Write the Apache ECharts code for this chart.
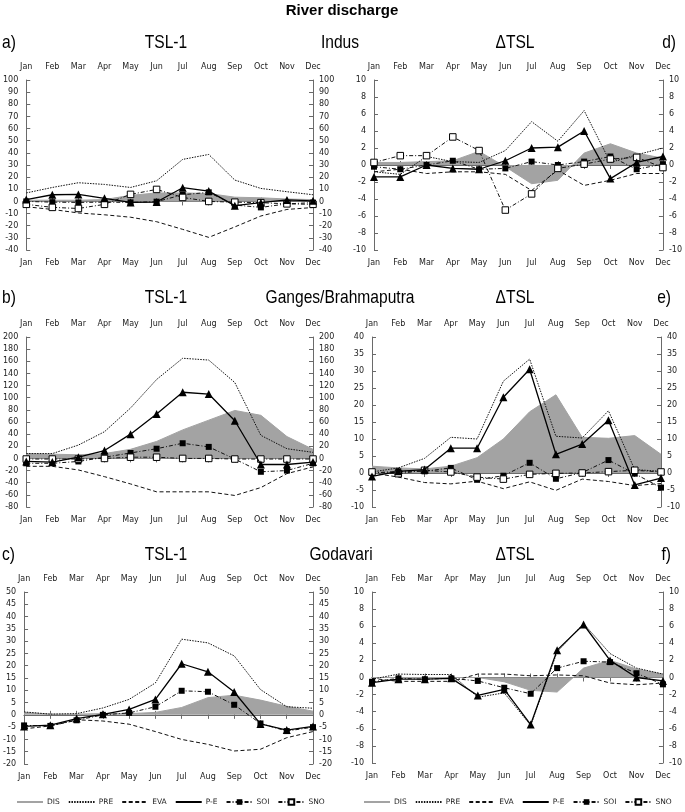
<!DOCTYPE html>
<html>
<head>
<meta charset="utf-8">
<script src="https://cdn.jsdelivr.net/npm/echarts@6/dist/echarts.min.js"></script>
<style>
html,body{margin:0;padding:0;background:#fff;}
#chart{width:685px;height:812px;}
</style>
</head>
<body>
<div id="chart"></div>
<script>
const months = ['Jan','Feb','Mar','Apr','May','Jun','Jul','Aug','Sep','Oct','Nov','Dec'];
const seriesNames = ['DIS','PRE','EVA','P-E','SOI','SNO'];

// a) Indus TSL-1
const indusTslDIS = [1,1,1,1.5,5,7,7,6.5,3.5,3,2,1.5];
const indusTslPRE = [7,11.5,15.4,14,11.5,17,34.6,38.7,17.6,10.7,8,5.5];
const indusTslEVA = [-4.4,-6.6,-9.5,-11,-13,-16.7,-23,-29.6,-21,-12,-6.6,-5];
const indusTslPE  = [1.5,5.5,5.8,2.6,-0.8,-0.5,11.3,8.5,-3.5,-1,1.2,0.5];
const indusTslSOI = [0,-0.6,-0.8,-0.6,-0.8,-0.2,5.5,7.5,-3,-4.9,-2,-1];
const indusTslSNO = [-2.4,-4.9,-5.8,-2.4,5.8,9.9,3.3,0,-0.6,-1,-2,-2.4];

// d) Indus dTSL
const indusDtDIS = [0.3,0.3,0.4,0.5,1.6,-0.2,-2.2,-1.8,1.4,2.5,1.4,0.8];
const indusDtPRE = [-0.8,-1.1,1.0,0.4,0.3,1.7,5.1,2.8,6.4,0.3,1.2,2.0];
const indusDtEVA = [-0.8,-0.5,-1.0,-0.8,-0.8,-1.1,-3.0,-0.6,-2.4,-1.8,-1.0,-1.0];
const indusDtPE  = [-1.4,-1.4,0,-0.4,-0.5,0.5,2.0,2.1,4.0,-1.6,0.3,1.0];
const indusDtSOI = [-0.2,-0.5,0,0.5,-0.5,-0.4,0.4,0,0.4,1.0,-0.5,0.1];
const indusDtSNO = [0.3,1.1,1.1,3.3,1.7,-5.3,-3.4,-0.4,0.1,0.7,0.9,-0.3];

// b) Ganges/Brahmaputra TSL-1
const gangesTslDIS = [8,7,6,8,15,28,47,63,79,71,36,15];
const gangesTslPRE = [8,8,22,44,83,130,165,162,125,38,16,10];
const gangesTslEVA = [-13,-13,-19,-30,-42,-55,-55,-55,-61,-48,-25,-14];
const gangesTslPE  = [-5,-6,2,13,40,73,109,106,62,-10,-10,-6];
const gangesTslSOI = [-8,-8,-5,2,9,16,25,19,-1,-22,-20,-8];
const gangesTslSNO = [-1,-1,-1,0,2,2,0,0,-1,-1,-1,-1];

// e) Ganges/Brahmaputra dTSL
const gangesDtDIS = [2,1.5,1.2,2,4.5,10,18,23,10.5,10.2,11,5.5];
const gangesDtPRE = [0.3,1.5,4.3,10.5,10,27,33.5,10.8,10.3,18.3,1,0.5];
const gangesDtEVA = [0,-1.2,-2.8,-3.2,-2.4,-4.6,-2.6,-5.1,-1.8,-2.5,-3.7,-3.1];
const gangesDtPE  = [-1,0.5,1,7.3,7.3,22.3,30.5,5.5,8.5,15.5,-3.5,-1.5];
const gangesDtSOI = [0,0.5,0.5,1.5,-2,-0.8,3,-1.7,0.1,3.8,-0.2,-4.3];
const gangesDtSNO = [0.3,-0.2,0.8,0.3,-1.2,-1.8,-0.4,-0.1,0,0.4,0.8,0.3];

// c) Godavari TSL-1
const godavariTslDIS = [1,0.3,0.3,0.5,0.5,1,3,7,8,6,3.5,1.5];
const godavariTslPRE = [1.2,0.3,0.5,2.8,6.3,13,30.8,29.3,24,10.3,3.3,2.7];
const godavariTslEVA = [-5.7,-4.5,-2,-2.5,-3.8,-6.8,-10,-12,-14.7,-14,-9.3,-6.8];
const godavariTslPE  = [-4.7,-4.2,-1.5,0.2,2.2,6.3,20.8,17.5,9.3,-3.7,-6.2,-4.7];
const godavariTslSOI = [-4.3,-4.5,-2.2,0,0.8,3.3,9.8,9.4,4.1,-3.5,-6.6,-5];

// f) Godavari dTSL
const godavariDtDIS = [0,0,0,0,0,-0.5,-1.5,-1.7,1.1,2.0,1.0,0.4];
const godavariDtPRE = [-0.2,0.4,0.35,0.35,-2.3,-1.8,-5.6,3.0,6.3,2.8,1.1,0.4];
const godavariDtEVA = [-0.1,-0.45,-0.45,-0.45,0.4,0.4,0.2,0.3,0.2,-0.65,-0.85,-0.65];
const godavariDtPE  = [-0.6,-0.2,-0.2,-0.1,-2.1,-1.4,-5.5,3.2,6.2,2.0,0,-0.4];
const godavariDtSOI = [-0.5,-0.1,-0.2,-0.1,-0.4,-1.2,-1.9,1.1,1.9,1.8,0.5,-0.8];

// y-axis ranges per panel [min, max, interval]
const rangeA = [-40,100,10];
const rangeD = [-10,10,2];
const rangeB = [-80,200,20];
const rangeE = [-10,40,5];
const rangeC = [-20,50,5];
const rangeF = [-10,10,2];

const panels = [
  {grid:{left:24, top:80, width:289, height:170}, range:rangeA,
   data:{DIS:indusTslDIS, PRE:indusTslPRE, EVA:indusTslEVA, 'P-E':indusTslPE, SOI:indusTslSOI, SNO:indusTslSNO}},
  {grid:{left:374, top:80, width:291, height:170}, range:rangeD,
   data:{DIS:indusDtDIS, PRE:indusDtPRE, EVA:indusDtEVA, 'P-E':indusDtPE, SOI:indusDtSOI, SNO:indusDtSNO}},
  {grid:{left:24, top:337, width:289, height:170}, range:rangeB,
   data:{DIS:gangesTslDIS, PRE:gangesTslPRE, EVA:gangesTslEVA, 'P-E':gangesTslPE, SOI:gangesTslSOI, SNO:gangesTslSNO}},
  {grid:{left:372, top:337, width:289, height:170}, range:rangeE,
   data:{DIS:gangesDtDIS, PRE:gangesDtPRE, EVA:gangesDtEVA, 'P-E':gangesDtPE, SOI:gangesDtSOI, SNO:gangesDtSNO}},
  {grid:{left:24, top:592, width:289, height:172}, range:rangeC,
   data:{DIS:godavariTslDIS, PRE:godavariTslPRE, EVA:godavariTslEVA, 'P-E':godavariTslPE, SOI:godavariTslSOI}},
  {grid:{left:372, top:592, width:291, height:171}, range:rangeF,
   data:{DIS:godavariDtDIS, PRE:godavariDtPRE, EVA:godavariDtEVA, 'P-E':godavariDtPE, SOI:godavariDtSOI}}
];

const FONT = '"DejaVu Sans", "Liberation Sans", sans-serif';
const AXC = '#6a6a6a';

const styles = {
  'DIS': {symbol:'none', lineStyle:{color:'#a3a3a3', width:1}, itemStyle:{color:'#b5b5b5'},
          areaStyle:{color:'#a3a3a3', opacity:1}, z:1},
  'PRE': {symbol:'none', lineStyle:{color:'#111', width:1, type:[1.5,1.2]}, itemStyle:{color:'#111'}, z:3},
  'EVA': {symbol:'none', lineStyle:{color:'#111', width:1, type:[4,2.5]}, itemStyle:{color:'#111'}, z:3},
  'P-E': {symbol:'triangle', symbolSize:8, lineStyle:{color:'#000', width:1.3}, itemStyle:{color:'#000'}, z:5},
  'SOI': {symbol:'rect', symbolSize:6, lineStyle:{color:'#111', width:1, type:[4,2,1,2]}, itemStyle:{color:'#000'}, z:4},
  'SNO': {symbol:'rect', symbolSize:6.5, lineStyle:{color:'#111', width:1, type:[4,2,1,2]},
          itemStyle:{color:'#fff', borderColor:'#000', borderWidth:1}, z:4}
};

const grids = [], xAxes = [], yAxes = [], series = [];
panels.forEach((p, i) => {
  grids.push(p.grid);
  const xBase = {
    type:'category', data:months, gridIndex:i, boundaryGap:false,
    axisLine:{show:true, lineStyle:{color:AXC, width:1}},
    axisTick:{show:true, inside:true, length:4, alignWithLabel:true, lineStyle:{color:AXC}},
    axisLabel:{fontSize:8, fontFamily:FONT, color:'#222', margin:9, interval:0},
    splitLine:{show:false}
  };
  xAxes.push(Object.assign({}, xBase, {position:'bottom'}));
  xAxes.push(Object.assign({}, xBase, {position:'top'}));
  const yBase = {
    type:'value', gridIndex:i, min:p.range[0], max:p.range[1], interval:p.range[2],
    axisLine:{show:true, lineStyle:{color:AXC, width:1}},
    axisTick:{show:true, inside:true, length:4, lineStyle:{color:AXC}},
    axisLabel:{fontSize:8, fontFamily:FONT, color:'#222'},
    splitLine:{show:false}
  };
  yAxes.push(Object.assign({}, yBase, {position:'left', axisLabel:Object.assign({}, yBase.axisLabel, {margin:8})}));
  yAxes.push(Object.assign({}, yBase, {position:'right', axisLabel:Object.assign({}, yBase.axisLabel, {margin:6})}));
  seriesNames.forEach(name => {
    if (!p.data[name]) return;
    series.push(Object.assign({
      type:'line', name:name, data:p.data[name],
      xAxisIndex:2*i, yAxisIndex:2*i, animation:false, showSymbol:true
    }, JSON.parse(JSON.stringify(styles[name]))));
  });
});

function titleText(txt, x, y, align) {
  return {type:'text', x:x, y:y, scaleX:0.82, scaleY:1,
    style:{text:txt, fontSize:19, fontFamily:'"Liberation Sans", Arial, sans-serif',
      fill:'#000', textAlign:align || 'center', textVerticalAlign:'middle'}};
}

const graphics = [
  {type:'text', x:342, y:11, style:{text:'River discharge', fontSize:15, fontWeight:'bold',
    fontFamily:'"Liberation Sans", Arial, sans-serif', fill:'#000', textAlign:'center', textVerticalAlign:'middle'}},
  titleText('a)', 2, 43, 'left'), titleText('TSL-1', 166, 43), titleText('Indus', 340, 43),
  titleText('ΔTSL', 515, 43), titleText('d)', 676, 43, 'right'),
  titleText('b)', 2, 298, 'left'), titleText('TSL-1', 166, 298), titleText('Ganges/Brahmaputra', 340, 298),
  titleText('ΔTSL', 515, 298), titleText('e)', 671, 298, 'right'),
  titleText('c)', 2, 555, 'left'), titleText('TSL-1', 166, 555), titleText('Godavari', 341, 555),
  titleText('ΔTSL', 515, 555), titleText('f)', 671, 555, 'right')
];

const noMarker = ['DIS','PRE','EVA','P-E'];
const legendData = seriesNames.map(n => noMarker.indexOf(n) >= 0 ? {name:n, itemStyle:{opacity:0}} : {name:n});
const legendBase = {
  data:legendData, top:793, itemWidth:26, itemHeight:7, itemGap:8, selectedMode:false,
  textStyle:{fontSize:7.5, fontFamily:FONT, color:'#222', padding:[0,0,0,-1]}
};

const option = {
  animation:false,
  backgroundColor:'#fff',
  grid:grids, xAxis:xAxes, yAxis:yAxes, series:series,
  graphic:graphics,
  legend:[Object.assign({left:11, width:330}, legendBase), Object.assign({left:358, width:327}, legendBase)]
};

const chart = echarts.init(document.getElementById('chart'), null, {renderer:'canvas'});
chart.setOption(option);
</script>
</body>
</html>
